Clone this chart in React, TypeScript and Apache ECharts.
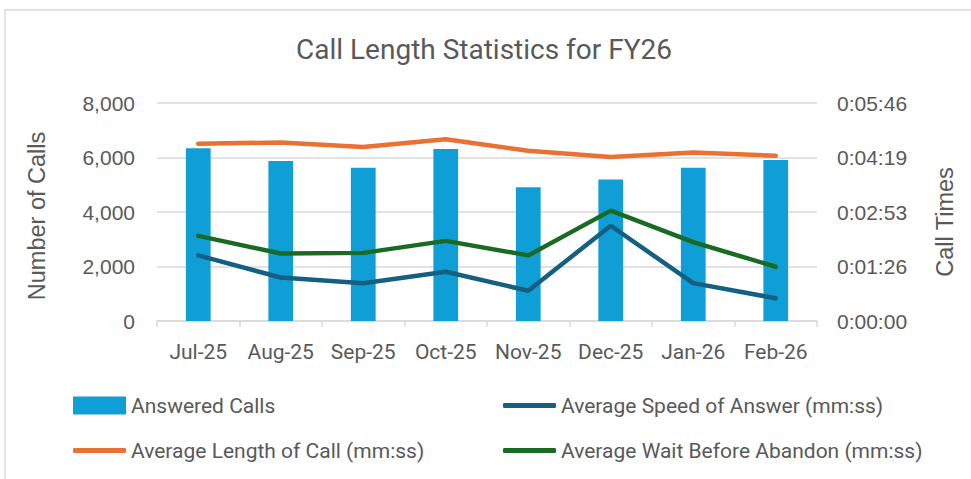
import React, { useEffect, useRef } from "react";
import * as echarts from "echarts";

const categories = ["Jul-25", "Aug-25", "Sep-25", "Oct-25", "Nov-25", "Dec-25", "Jan-26", "Feb-26"];
const answeredCalls = [6340, 5870, 5620, 6310, 4910, 5190, 5620, 5910];
// seconds
const avgSpeedOfAnswer = [104, 69, 60, 78, 48, 151, 60, 36];
const avgLengthOfCall = [281, 283, 276, 288, 270, 260, 267, 262];
const avgWaitBeforeAbandon = [135, 107, 108, 127, 104, 175, 125, 86];

const leftTicks = [0, 2000, 4000, 6000, 8000];
const timeMax = 345.6; // 0.004 day
const timeInterval = 86.4; // 0.001 day

const NARROW = 'Roboto, "Liberation Sans", sans-serif';
const REG = '"Liberation Sans", Arial, sans-serif';
const TXT = "#595959";
const GRID = "#d9d9d9";

const fmtTime = (v: number) => {
  const s = Math.round(v);
  const h = Math.floor(s / 3600);
  const m = Math.floor((s % 3600) / 60);
  const sec = s % 60;
  return `${h}:${String(m).padStart(2, "0")}:${String(sec).padStart(2, "0")}`;
};

export default function App() {
  const ref = useRef<HTMLDivElement>(null);
  useEffect(() => {
    if (!ref.current) return;
    const chart = echarts.init(ref.current, null, { renderer: "svg" });
    const textStyle = { color: TXT, fontFamily: NARROW, fontSize: 21 };
    const barLegend = { padding: 0, itemWidth: 53, itemHeight: 18, icon: "rect", textStyle };
    const lineLegend = { padding: 0, itemWidth: 53, itemHeight: 5, icon: "roundRect", textStyle };
    chart.setOption({
      animation: false,
      backgroundColor: "#ffffff",
      title: {
        text: "Call Length Statistics for FY26",
        left: 291,
        top: 30,
        textStyle: { color: TXT, fontFamily: NARROW, fontSize: 28, fontWeight: "normal" },
      },
      graphic: [
        {
          type: "rect",
          shape: { x: 5, y: 10, width: 1000, height: 500 },
          style: { fill: "none", stroke: GRID, lineWidth: 1.5 },
          silent: true,
        },
        {
          type: "text",
          x: 37,
          y: 216,
          rotation: Math.PI / 2,
          style: { text: "Number of Calls", fill: TXT, font: `23.5px ${REG}`, align: "center", verticalAlign: "middle" },
        },
        {
          type: "text",
          x: 945,
          y: 222,
          rotation: Math.PI / 2,
          style: { text: "Call Times", fill: TXT, font: `23.5px ${REG}`, align: "center", verticalAlign: "middle" },
        },
      ],
      legend: [
        { ...barLegend, data: ["Answered Calls"], left: 73, top: 395 },
        { ...lineLegend, data: ["Average Speed of Answer (mm:ss)"], left: 503, top: 395 },
        { ...lineLegend, data: ["Average Length of Call (mm:ss)"], left: 73, top: 440 },
        { ...lineLegend, data: ["Average Wait Before Abandon (mm:ss)"], left: 503, top: 440 },
      ],
      grid: { left: 157, right: 154, top: 103, bottom: 158 },
      xAxis: {
        type: "category",
        data: categories,
        axisLine: { lineStyle: { color: GRID, width: 1.5 } },
        axisTick: { show: true, length: 6, interval: 0, lineStyle: { color: GRID, width: 1.5 } },
        axisLabel: { color: TXT, fontFamily: NARROW, fontSize: 21, margin: 20, interval: 0 },
      },
      yAxis: [
        {
          type: "value",
          min: leftTicks[0],
          max: leftTicks[leftTicks.length - 1],
          interval: 2000,
          axisLine: { show: false },
          axisTick: { show: false },
          splitLine: { lineStyle: { color: GRID, width: 1.5 } },
          axisLabel: {
            color: TXT,
            fontFamily: REG,
            fontSize: 21,
            margin: 22,
            formatter: (v: number) => v.toLocaleString("en-US"),
          },
        },
        {
          type: "value",
          min: 0,
          max: timeMax,
          interval: timeInterval,
          axisLine: { show: false },
          axisTick: { show: false },
          splitLine: { show: false },
          axisLabel: { color: TXT, fontFamily: REG, fontSize: 21, margin: 20, formatter: fmtTime },
        },
      ],
      series: [
        {
          name: "Answered Calls",
          type: "bar",
          data: answeredCalls,
          barWidth: "30%",
          itemStyle: { color: "#0F9ED5" },
          yAxisIndex: 0,
        },
        {
          name: "Average Speed of Answer (mm:ss)",
          type: "line",
          yAxisIndex: 1,
          data: avgSpeedOfAnswer,
          symbol: "none",
          lineStyle: { color: "#156082", width: 4.5, cap: "round" },
          itemStyle: { color: "#156082" },
        },
        {
          name: "Average Length of Call (mm:ss)",
          type: "line",
          yAxisIndex: 1,
          data: avgLengthOfCall,
          symbol: "none",
          lineStyle: { color: "#E97132", width: 4.5, cap: "round" },
          itemStyle: { color: "#E97132" },
        },
        {
          name: "Average Wait Before Abandon (mm:ss)",
          type: "line",
          yAxisIndex: 1,
          data: avgWaitBeforeAbandon,
          symbol: "none",
          lineStyle: { color: "#196B24", width: 4.5, cap: "round" },
          itemStyle: { color: "#196B24" },
        },
      ],
    });
    return () => chart.dispose();
  }, []);
  return (
    <div
      ref={ref}
      style={{ position: "fixed", left: 0, top: 0, width: 971, height: 479, background: "#fff" }}
    />
  );
}
